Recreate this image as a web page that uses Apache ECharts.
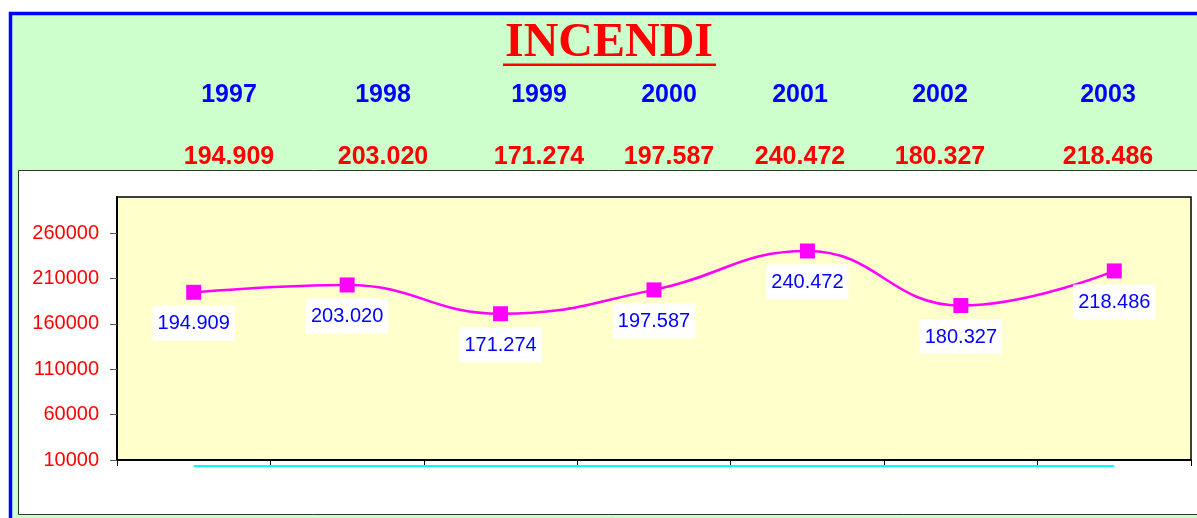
<!DOCTYPE html>
<html>
<head>
<meta charset="utf-8">
<script src="https://cdn.jsdelivr.net/npm/echarts@6/dist/echarts.min.js"></script>
<style>
  html, body { margin: 0; padding: 0; background: #fff; }
  #chart { width: 1197px; height: 518px; }
</style>
</head>
<body>
<div id="chart"></div>
<script>
const years = ['1997', '1998', '1999', '2000', '2001', '2002', '2003']
const incendi = [194909, 203020, 171274, 197587, 240472, 180327, 218486]
const baseLine = [3500, 3500, 3500, 3500, 3500, 3500, 3500]
const yTicks = [10000, 60000, 110000, 160000, 210000, 260000]

// header column centres (layout only)
const headerX = [229, 383, 539, 669, 800, 940, 1108]

function fmt(v) {
  return String(v).replace(/\B(?=(\d{3})+(?!\d))/g, '.')
}

const chart = echarts.init(document.getElementById('chart'), null, { renderer: 'canvas' })

const headerTexts = []
years.forEach((y, i) => {
  headerTexts.push({
    type: 'text', x: headerX[i], y: 95,
    style: { text: y, fill: '#0000FF', font: 'bold 25px "Liberation Sans", Arial', align: 'center', verticalAlign: 'middle' }
  })
  headerTexts.push({
    type: 'text', x: headerX[i], y: 157,
    style: { text: fmt(incendi[i]), fill: '#FF0000', font: 'bold 25px "Liberation Sans", Arial', align: 'center', verticalAlign: 'middle' }
  })
})

chart.setOption({
  backgroundColor: '#ffffff',
  animation: false,
  graphic: [
    {
      type: 'rect', z: -10, silent: true,
      shape: { x: 10.5, y: 13.5, width: 1200, height: 520 },
      style: { fill: '#CCFFCC', stroke: '#0000FF', lineWidth: 3.5 }
    },
    {
      type: 'rect', z: -9, silent: true,
      shape: { x: 18.5, y: 170.5, width: 1200, height: 344 },
      style: { fill: '#FFFFFF', stroke: '#333333', lineWidth: 1 }
    },
    {
      type: 'text', x: 609, y: 44,
      style: { text: 'INCENDI', fill: '#FF0000', font: 'bold 48px "Liberation Serif", "Times New Roman"', align: 'center', verticalAlign: 'middle' }
    },
    {
      type: 'rect', silent: true,
      shape: { x: 503, y: 63.5, width: 213, height: 2.5 },
      style: { fill: '#FF0000' }
    },
    ...headerTexts
  ],
  grid: {
    left: 117, right: 6, top: 197, bottom: 58,
    show: true, backgroundColor: '#FFFFCC', borderColor: '#000000', borderWidth: 1.5
  },
  xAxis: {
    type: 'category',
    data: years,
    boundaryGap: true,
    axisLine: { lineStyle: { color: '#000000', width: 2 } },
    axisTick: { show: true, length: 6, lineStyle: { color: '#000000', width: 1 } },
    axisLabel: { show: false },
    splitLine: { show: false }
  },
  yAxis: {
    type: 'value',
    min: 10000,
    max: 300000,
    interval: 50000,
    axisLine: { show: true, lineStyle: { color: '#000000', width: 2 } },
    axisTick: { show: true, length: 7, customValues: yTicks, lineStyle: { color: '#555555' } },
    axisLabel: {
      customValues: yTicks,
      formatter: (v) => String(v),
      color: '#FF0000', fontSize: 20, fontFamily: '"Liberation Sans", Arial', margin: 18
    },
    splitLine: { show: false }
  },
  series: [
    {
      name: 'base',
      type: 'line',
      data: baseLine,
      clip: false,
      symbol: 'none',
      silent: true,
      lineStyle: { color: '#00FFFF', width: 2 }
    },
    {
      name: 'Incendi',
      type: 'line',
      data: incendi,
      smooth: 0.45,
      symbol: 'rect',
      symbolSize: 15,
      itemStyle: { color: '#FF00FF' },
      lineStyle: { color: '#FF00FF', width: 2.5 },
      label: {
        show: true,
        position: 'bottom',
        distance: 6,
        formatter: (p) => fmt(p.value),
        color: '#0000FF',
        fontSize: 20,
        fontFamily: '"Liberation Sans", Arial',
        lineHeight: 20,
        backgroundColor: '#FFFFFF',
        padding: [8, 5, 7, 5]
      }
    }
  ]
})
</script>
</body>
</html>
